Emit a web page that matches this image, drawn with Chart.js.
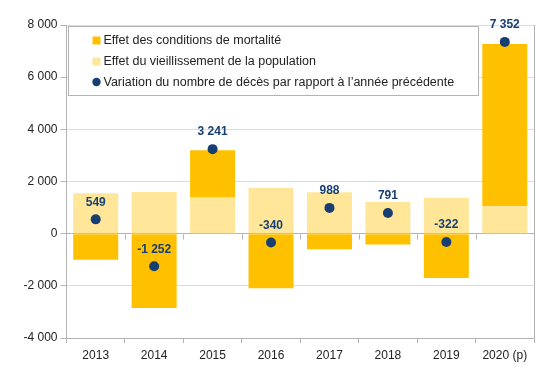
<!DOCTYPE html>
<html>
<head>
<meta charset="utf-8">
<script src="https://cdn.jsdelivr.net/npm/chart.js@4/dist/chart.umd.min.js"></script>
<style>
  html, body { margin: 0; padding: 0; background: #ffffff; }
  #wrap { width: 548px; height: 379px; }
</style>
</head>
<body>
<div id="wrap"><canvas id="c" width="548" height="379"></canvas></div>
<script>
const categories = ['2013', '2014', '2015', '2016', '2017', '2018', '2019', '2020 (p)'];
const mortalite = [-1000, -2850, 1810, -2090, -600, -420, -1700, 6220];
const vieillissement = [1550, 1600, 1390, 1750, 1590, 1210, 1380, 1050];
const variation = [549, -1252, 3241, -340, 988, 791, -322, 7352];
const yTicks = [-4000, -2000, 0, 2000, 4000, 6000, 8000];
const seriesNames = [
  'Effet des conditions de mortalité',
  'Effet du vieillissement de la population',
  'Variation du nombre de décès par rapport à l’année précédente'
];

const COL_DARK = '#FFC000';
const COL_LIGHT = '#FFE699';
const COL_POINT = '#173F72';
const COL_AXIS = '#b3b3b3';
const COL_GRID = '#dcdcdc';
const FONT = '"Liberation Sans", Arial, sans-serif';

function fmt(v) {
  const s = Math.abs(v).toString().replace(/\B(?=(\d{3})+(?!\d))/g, ' ');
  return (v < 0 ? '-' : '') + s;
}

const customPlugin = {
  id: 'custom',
  beforeDatasetsDraw(chart) {
    const ctx = chart.ctx;
    const area = chart.chartArea;
    const x = chart.scales.x;
    const y = chart.scales.y;
    ctx.save();
    // right border
    ctx.strokeStyle = COL_AXIS;
    ctx.lineWidth = 1;
    ctx.beginPath();
    ctx.moveTo(Math.round(area.right) + 0.5, area.top);
    ctx.lineTo(Math.round(area.right) + 0.5, area.bottom + 5);
    ctx.stroke();
    // ticks below the zero line at category boundaries
    const y0 = Math.round(y.getPixelForValue(0)) + 0.5;
    ctx.beginPath();
    for (let i = 1; i < categories.length; i++) {
      const bx = Math.round((x.getPixelForValue(i - 1) + x.getPixelForValue(i)) / 2) + 0.5;
      ctx.moveTo(bx, y0);
      ctx.lineTo(bx, y0 + 5);
    }
    ctx.stroke();
    ctx.restore();
  },
  afterDatasetsDraw(chart) {
    const ctx = chart.ctx;
    const area = chart.chartArea;
    ctx.save();
    // data labels
    const meta = chart.getDatasetMeta(2);
    ctx.font = 'bold 12px ' + FONT;
    ctx.fillStyle = COL_POINT;
    ctx.textAlign = 'center';
    ctx.textBaseline = 'middle';
    meta.data.forEach((el, i) => {
      ctx.fillText(fmt(variation[i]), el.x, el.y - 17);
    });
    // legend
    ctx.font = '12.5px ' + FONT;
    const widths = seriesNames.map(s => ctx.measureText(s).width);
    const maxW = Math.max(...widths);
    const left = Math.round(area.left) + 1.5;
    const top = Math.round(area.top) + 1.5;
    const textX = left + 35;
    const right = Math.round(textX + maxW + 24) + 0.5;
    const bottom = top + 69;
    ctx.fillStyle = '#ffffff';
    ctx.fillRect(left, top, right - left, bottom - top);
    ctx.strokeStyle = COL_AXIS;
    ctx.lineWidth = 1;
    ctx.strokeRect(left, top, right - left, bottom - top);
    const rows = [top + 14, top + 35, top + 55.5];
    const mx = left + 28;
    ctx.fillStyle = COL_DARK;
    ctx.fillRect(mx - 4, rows[0] - 4, 8, 8);
    ctx.fillStyle = COL_LIGHT;
    ctx.fillRect(mx - 4, rows[1] - 4, 8, 8);
    ctx.fillStyle = COL_POINT;
    ctx.beginPath();
    ctx.arc(mx, rows[2], 4.2, 0, Math.PI * 2);
    ctx.fill();
    ctx.fillStyle = '#222222';
    ctx.textAlign = 'left';
    ctx.textBaseline = 'middle';
    seriesNames.forEach((s, i) => ctx.fillText(s, textX, rows[i] + 0.5));
    ctx.restore();
  }
};

new Chart(document.getElementById('c'), {
  type: 'bar',
  data: {
    labels: categories,
    datasets: [
      {
        label: seriesNames[1],
        data: vieillissement,
        backgroundColor: COL_LIGHT,
        borderWidth: 0,
        barPercentage: 0.77,
        categoryPercentage: 1.0,
        order: 1
      },
      {
        label: seriesNames[0],
        data: mortalite,
        backgroundColor: COL_DARK,
        borderWidth: 0,
        barPercentage: 0.77,
        categoryPercentage: 1.0,
        order: 1
      },
      {
        type: 'line',
        label: seriesNames[2],
        data: variation,
        showLine: false,
        pointRadius: 5,
        pointBackgroundColor: COL_POINT,
        pointBorderColor: COL_POINT,
        pointBorderWidth: 0,
        order: 0
      }
    ]
  },
  options: {
    responsive: false,
    animation: false,
    devicePixelRatio: 1,
    layout: { padding: { top: 25, right: 14, left: 0, bottom: 0 } },
    plugins: {
      legend: { display: false },
      tooltip: { enabled: false }
    },
    scales: {
      x: {
        stacked: true,
        grid: {
          display: true,
          drawOnChartArea: false,
          offset: true,
          tickLength: 5,
          color: COL_AXIS
        },
        border: { color: COL_AXIS },
        ticks: {
          color: '#222222',
          font: { family: FONT, size: 12 },
          padding: 5,
          maxRotation: 0
        },
        afterFit(s) { s.height = 41; }
      },
      y: {
        stacked: true,
        min: -4000,
        max: 8000,
        afterBuildTicks(s) { s.ticks = yTicks.map(v => ({ value: v })); },
        grid: {
          color: ctx => (ctx.tick && ctx.tick.value === 0 ? COL_AXIS : COL_GRID),
          tickColor: COL_AXIS,
          tickLength: 6
        },
        border: { color: COL_AXIS },
        ticks: {
          color: '#222222',
          font: { family: FONT, size: 12 },
          padding: 3,
          callback: v => fmt(v)
        },
        afterFit(s) { s.width = 66.5; }
      }
    }
  },
  plugins: [customPlugin]
});
</script>
</body>
</html>
